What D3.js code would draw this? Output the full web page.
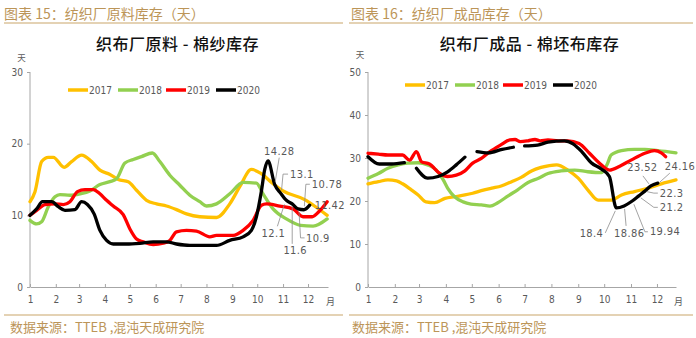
<!DOCTYPE html>
<html>
<head>
<meta charset="utf-8">
<script src="https://cdn.jsdelivr.net/npm/d3@7"></script>
<style>
  html, body { margin: 0; padding: 0; background: #fff; }
  svg { display: block; }
</style>
</head>
<body>
<svg id="chart" width="696" height="338"></svg>
<script>
// ---- shared categories ----
const years = ["2017", "2018", "2019", "2020"];
const yearColors = ["#FFC000", "#92D050", "#FF0000", "#000000"];
const monthStartDay = [0, 31, 59, 90, 120, 151, 181, 212, 243, 273, 304, 334];
const monthLabels = ["1", "2", "3", "4", "5", "6", "7", "8", "9", "10", "11", "12"];

// ---- 棉纱库存 (天)，[day of year, value] ----
const yarn2017 = [[0,11.9],[6,13.3],[14,17.5],[22,18.1],[28,18.1],[41,16.7],[50,17.5],[62,18.4],[74,17.5],[84,16.3],[96,15.7],[106,15.0],[118,14.7],[128,13.5],[140,12.1],[152,11.6],[164,11.3],[176,10.8],[188,10.2],[204,9.8],[224,9.7],[240,11.6],[252,14.0],[266,16.4],[278,15.8],[292,14.4],[304,13.4],[330,12.2],[343,11.2],[357,10.0]];
const yarn2018 = [[0,9.3],[8,8.8],[14,9.1],[22,11.2],[30,12.6],[36,12.9],[48,12.8],[60,13.0],[72,13.4],[84,14.3],[96,14.7],[104,15.1],[114,17.3],[124,17.8],[134,18.2],[147,18.7],[156,17.5],[168,15.6],[180,14.2],[192,12.8],[204,11.9],[212,11.3],[224,11.6],[240,13.0],[256,14.6],[272,14.5],[280,13.0],[292,10.9],[308,9.5],[325,8.6],[340,8.5],[357,9.5]];
const yarn2019 = [[0,10.0],[8,10.7],[18,11.5],[30,11.6],[40,11.5],[48,11.9],[57,13.3],[66,13.6],[76,13.6],[84,13.0],[92,12.1],[100,11.3],[112,10.1],[120,8.1],[128,6.7],[136,6.3],[148,5.9],[160,6.1],[168,6.5],[176,7.7],[188,7.9],[200,7.8],[216,7.0],[224,7.2],[244,7.2],[256,7.9],[268,9.3],[278,11.4],[284,11.6],[300,11.3],[316,10.9],[328,9.8],[339,9.8],[347,10.5],[357,11.9]];
const yarn2020 = [[0,10.0],[8,10.9],[15,11.9],[26,11.9],[34,11.2],[42,10.7],[54,10.8],[62,11.9],[69,11.5],[77,10.2],[84,7.9],[92,6.5],[100,6.0],[116,6.0],[132,6.1],[148,6.3],[164,6.3],[176,6.0],[192,5.8],[224,5.8],[240,6.5],[256,7.0],[266,7.9],[272,9.8],[278,13.4],[282,16.4],[286,17.6],[294,14.28],[301,13.1],[308,12.1],[315,11.6],[322,10.9],[329,10.78],[336,11.42]];

// ---- 棉坯布库存 (天)，[day of year, value]; null marks weeks without data ----
const grey2017 = [[0,24.0],[12,24.5],[23,24.9],[33,24.7],[40,24.0],[50,22.6],[58,21.4],[67,19.8],[77,19.6],[89,20.6],[100,21.0],[112,21.4],[121,21.8],[131,22.4],[143,23.0],[154,23.5],[166,24.5],[177,25.5],[189,27.0],[200,27.8],[218,28.4],[231,27.2],[243,25.3],[254,22.6],[266,20.2],[281,20.2],[293,21.4],[308,22.2],[324,23.0],[339,24.0],[356,24.9]];
const grey2018 = [[0,25.3],[12,26.4],[23,27.6],[35,28.4],[46,28.8],[58,28.9],[69,28.4],[79,27.2],[87,24.9],[92,23.0],[100,21.0],[110,19.8],[119,19.3],[131,19.1],[141,18.8],[150,19.6],[162,21.2],[173,22.6],[185,24.3],[197,25.3],[208,26.4],[223,27.0],[239,27.2],[254,26.8],[270,26.6],[277,28.8],[281,30.7],[293,31.7],[308,32.0],[320,32.0],[335,31.7],[356,31.2]];
const grey2019 = [[0,31.1],[12,30.9],[23,30.7],[40,30.7],[48,29.5],[56,31.5],[62,29.1],[71,28.6],[83,26.4],[92,25.7],[102,26.0],[112,27.0],[121,28.8],[131,29.9],[141,31.5],[153,33.0],[164,34.2],[170,34.3],[176,33.8],[185,34.0],[193,34.3],[199,34.0],[208,34.2],[220,34.0],[231,34.0],[244,33.4],[256,31.1],[267,28.9],[279,27.2],[291,28.1],[304,29.5],[320,31.1],[331,31.7],[339,31.2],[344,30.3]];
const grey2020 = [[0,30.3],[13,28.6],[27,28.6],[42,28.9],[49,null],[56,27.6],[69,25.3],[81,25.7],[92,26.8],[102,28.4],[112,30.2],[119,null],[126,31.5],[139,31.2],[155,32.0],[168,32.5],[175,null],[181,32.8],[196,33.0],[208,33.7],[227,34.0],[237,33.3],[247,31.5],[258,28.9],[270,27.4],[279,25.7],[287,18.4],[296,18.86],[305,19.94],[313,21.2],[320,22.3],[327,23.52],[335,24.16]];

// ---- value-label placement for the last seven 2020 points (offsets from the point) ----
const yarnLabelLayout = [
  { tx: 4.5, ty: -33,  anchor: "middle", leader: [[4.5,-27],[0.5,-3]] },
  { tx: 9.5, ty: -19,  anchor: "start",  leader: [[7.5,-19],[2.5,-19],[1,-3]] },
  { tx: -13, ty: 33,   anchor: "middle", leader: [[-9,26],[-2,4]] },
  { tx: 3,   ty: 47,   anchor: "middle", leader: [[0,40],[0,3]] },
  { tx: 8,   ty: 30,   anchor: "start",  leader: [[6.5,29],[2.5,29],[1,3]] },
  { tx: 8,   ty: -25.5,anchor: "start",  leader: [[6,-25.5],[2,-25.5],[0.5,-3.5]] },
  { tx: 5,   ty: 0,    anchor: "start",  leader: [] }
];
const greyLabelLayout = [
  { tx: -13,  ty: 25.5, anchor: "end",    leader: [[-11,25],[-1,3]] },
  { tx: -10,  ty: 27.5, anchor: "start",  leader: [[2,20],[0.5,3]] },
  { tx: 18,   ty: 30.5, anchor: "start",  leader: [[16,30.5],[13,30.5],[2,3]] },
  { tx: 21,   ty: 11.5, anchor: "start",  leader: [[19,11.5],[15,11.5],[2,2]] },
  { tx: 15,   ty: 2,    anchor: "start",  leader: [[13,2],[9,2],[2,0.5]] },
  { tx: -8.5, ty: -18.5,anchor: "middle", leader: [[-8,-10],[-2,-2]] },
  { tx: 7,    ty: -17,  anchor: "start",  leader: [[12,-10],[2,-1]] }
];

const panels = [
  {
    header: "图表 15：纺织厂原料库存（天）", headerX: 4, footerX: 10,
    title: "织布厂原料 - 棉纱库存", titleX: 177.5,
    series: [yarn2017, yarn2018, yarn2019, yarn2020],
    yMax: 30, yTicks: [0, 10, 20, 30],
    xRange: [30, 328], dayMax: 358,
    unitPos: [21.5, 57], legendX: 68, legendY: 90,
    labelLayout: yarnLabelLayout,
    ruleX: [4, 343]
  },
  {
    header: "图表 16：纺织厂成品库存（天）", headerX: 351, footerX: 352,
    title: "织布厂成品 - 棉坯布库存", titleX: 529.5,
    series: [grey2017, grey2018, grey2019, grey2020],
    yMax: 50, yTicks: [0, 10, 20, 30, 40, 50],
    xRange: [368, 676], dayMax: 356,
    unitPos: [360, 53.5], legendX: 405, legendY: 85,
    labelLayout: greyLabelLayout,
    ruleX: [349, 693]
  }
];

const svg = d3.select("#chart");
const cjk = "'Noto Sans CJK SC', 'Noto Sans', sans-serif";
const narrow = "'Liberation Sans Narrow', 'DejaVu Sans Condensed', 'Liberation Sans', sans-serif";
const tan = "#BC9558";
const axisGrey = "#A6A6A6";
const textGrey = "#595959";
const plotTop = 72, plotBottom = 287;

panels.forEach(p => {
  const g = svg.append("g");

  // header caption, rules and source note
  g.append("text").attr("x", p.headerX).attr("y", 13).attr("dominant-baseline", "central")
    .attr("font-family", cjk).attr("font-size", 14).attr("fill", tan).text(p.header);
  g.append("line").attr("x1", p.ruleX[0]).attr("x2", p.ruleX[1]).attr("y1", 23).attr("y2", 23)
    .attr("stroke", "#C9A66B").attr("stroke-width", 1.2);
  g.append("line").attr("x1", p.ruleX[0]).attr("x2", p.ruleX[1]).attr("y1", 315).attr("y2", 315)
    .attr("stroke", "#C9A66B").attr("stroke-width", 1.2);
  g.append("text").attr("x", p.footerX).attr("y", 326.5).attr("dominant-baseline", "central")
    .attr("font-family", cjk).attr("font-size", 13).attr("fill", tan).text("数据来源：TTEB ,混沌天成研究院");

  // chart title
  g.append("text").attr("x", p.titleX).attr("y", 43).attr("text-anchor", "middle")
    .attr("dominant-baseline", "central").attr("font-family", cjk).attr("font-weight", 500)
    .attr("font-size", 16).attr("letter-spacing", 0.5).attr("fill", "#111").text(p.title);

  const x = d3.scaleLinear().domain([0, p.dayMax]).range(p.xRange);
  const y = d3.scaleLinear().domain([0, p.yMax]).range([plotBottom, plotTop]);

  // y axis
  const yAxis = d3.axisLeft(y).tickValues(p.yTicks).tickSize(3).tickPadding(4);
  const ya = g.append("g").attr("transform", `translate(${p.xRange[0]},0)`).call(yAxis);
  ya.select(".domain").attr("stroke", axisGrey).attr("d", `M-0,${plotTop}V${plotBottom}`);
  ya.selectAll(".tick line").attr("stroke", axisGrey);
  ya.selectAll(".tick text").attr("font-family", narrow).attr("font-size", 10).attr("fill", textGrey);

  // x axis: month starts
  const xAxis = d3.axisBottom(x).tickValues(monthStartDay)
    .tickFormat((d, i) => monthLabels[i]).tickSizeInner(-3).tickSizeOuter(0).tickPadding(9);
  const xa = g.append("g").attr("transform", `translate(0,${plotBottom})`).call(xAxis);
  xa.select(".domain").attr("stroke", axisGrey);
  xa.selectAll(".tick line").attr("stroke", axisGrey);
  xa.selectAll(".tick text").attr("font-family", narrow).attr("font-size", 10).attr("fill", textGrey);
  g.append("text").attr("x", p.xRange[1] - 2).attr("y", plotBottom + 14).attr("dominant-baseline", "central")
    .attr("font-family", cjk).attr("font-size", 9).attr("fill", textGrey).text("月");

  // unit
  g.append("text").attr("x", p.unitPos[0]).attr("y", p.unitPos[1]).attr("text-anchor", "middle")
    .attr("dominant-baseline", "central").attr("font-family", cjk).attr("font-size", 8.5)
    .attr("fill", textGrey).text("天");

  // series lines
  const line = d3.line()
    .defined(d => d[1] !== null)
    .x(d => x(d[0])).y(d => y(d[1]))
    .curve(d3.curveMonotoneX);
  p.series.forEach((s, i) => {
    g.append("path").datum(s).attr("d", line).attr("fill", "none")
      .attr("stroke", yearColors[i]).attr("stroke-width", 3.3)
      .attr("stroke-linejoin", "round").attr("stroke-linecap", "round");
  });

  // legend
  const lg = g.append("g").attr("transform", `translate(${p.legendX},${p.legendY})`);
  const legendStep = [0, 50, 98, 148];
  years.forEach((yr, i) => {
    const item = lg.append("g").attr("transform", `translate(${legendStep[i]},0)`);
    item.append("line").attr("x1", 0).attr("x2", 20).attr("stroke", yearColors[i])
      .attr("stroke-width", 3.5);
    item.append("text").attr("x", 21).attr("y", 0).attr("dominant-baseline", "central")
      .attr("font-family", narrow).attr("font-size", 10).attr("fill", textGrey).text(yr);
  });

  // value labels for the latest 2020 points
  const latest = p.series[3].filter(d => d[1] !== null).slice(-p.labelLayout.length);
  latest.forEach((d, i) => {
    const L = p.labelLayout[i];
    const px = x(d[0]), py = y(d[1]);
    if (L.leader.length) {
      g.append("polyline")
        .attr("points", L.leader.map(q => `${px + q[0]},${py + q[1]}`).join(" "))
        .attr("fill", "none").attr("stroke", "#8C8C8C").attr("stroke-width", 0.8);
    }
    g.append("text").attr("x", px + L.tx).attr("y", py + L.ty)
      .attr("text-anchor", L.anchor).attr("dominant-baseline", "central")
      .attr("font-family", narrow).attr("font-size", 11).attr("letter-spacing", 0.4)
      .attr("fill", textGrey).text(String(d[1]));
  });
});
</script>
</body>
</html>
